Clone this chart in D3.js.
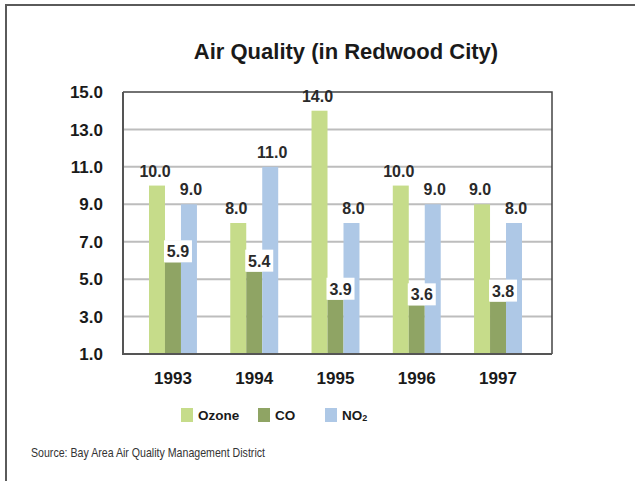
<!DOCTYPE html>
<html>
  <head>
    <script src="https://cdn.jsdelivr.net/npm/d3@7"></script>
    <style>
      body { margin: 0; background: #fff; }
      text { font-family: "Liberation Sans", Arial, sans-serif; }
    </style>
  </head>
  <body>
    <svg width="635" height="481" id="mainsvg"></svg>
    <script>
      // data
      const years = ['1993', '1994', '1995', '1996', '1997'];
      const seriesNames = ['Ozone', 'CO', 'NO2'];
      const ozone = [10.0, 8.0, 14.0, 10.0, 9.0];
      const co = [5.9, 5.4, 3.9, 3.6, 3.8];
      const no2 = [9.0, 11.0, 8.0, 9.0, 8.0];
      const yTicks = [1, 3, 5, 7, 9, 11, 13, 15];

      const colors = {Ozone: '#c6dc8a', CO: '#8fa464', NO2: '#aec8e6'};
      const labelDx = {Ozone: -2, CO: 5, NO2: 2};

      const svg = d3.select('#mainsvg');
      const plot = {left: 123, right: 552, top: 92, bottom: 354};

      // outer frame (left + top)
      svg.append('path')
        .attr('d', 'M6,481V5H635')
        .attr('fill', 'none')
        .attr('stroke', '#5a5a5a')
        .attr('stroke-width', 2);

      svg.append('text')
        .attr('x', 346).attr('y', 59)
        .attr('text-anchor', 'middle')
        .attr('font-size', 22).attr('font-weight', 'bold')
        .attr('fill', '#1a1a1a')
        .text('Air Quality (in Redwood City)');

      const y = d3.scaleLinear().domain([1, 15]).range([plot.bottom, plot.top]);
      const x0 = d3.scaleBand().domain(years).range([149, 522]).paddingInner(0.41);
      const x1 = d3.scaleBand().domain(seriesNames).range([0, x0.bandwidth()]);

      // grid
      svg.append('g').selectAll('line').data(yTicks.slice(1, -1)).join('line')
        .attr('x1', plot.left).attr('x2', plot.right)
        .attr('y1', d => y(d)).attr('y2', d => y(d))
        .attr('stroke', '#bdbdbd').attr('stroke-width', 2);

      // y tick labels
      svg.append('g').selectAll('text').data(yTicks).join('text')
        .attr('x', 103).attr('y', d => y(d)).attr('dy', '0.36em')
        .attr('text-anchor', 'end')
        .attr('font-size', 17).attr('font-weight', 'bold')
        .attr('fill', '#1a1a1a')
        .text(d => d3.format('.1f')(d));

      const table = seriesNames.map((s, i) => ({
        name: s,
        values: [ozone, co, no2][i]
      }));
      const bars = [];
      table.forEach(s => s.values.forEach((v, j) => bars.push({series: s.name, year: years[j], value: v})));

      svg.append('g').selectAll('rect').data(bars).join('rect')
        .attr('x', d => x0(d.year) + x1(d.series))
        .attr('y', d => y(d.value))
        .attr('width', x1.bandwidth())
        .attr('height', d => y(1) - y(d.value))
        .attr('fill', d => colors[d.series]);

      // plot frame
      svg.append('path')
        .attr('d', `M${plot.left},${plot.top}H${plot.right}V${plot.bottom}`)
        .attr('fill', 'none').attr('stroke', '#444').attr('stroke-width', 1.5);
      svg.append('path')
        .attr('d', `M${plot.left},${plot.top}V${plot.bottom}H${plot.right}`)
        .attr('fill', 'none').attr('stroke', '#555').attr('stroke-width', 2);

      // value labels
      const lab = svg.append('g').selectAll('g').data(bars).join('g')
        .attr('transform', d => {
          const cx = x0(d.year) + x1(d.series) + x1.bandwidth() / 2 + labelDx[d.series];
          const off = d.series === 'CO' ? 5 : 9;
          return `translate(${cx},${y(d.value) - off})`;
        });
      lab.filter(d => d.series === 'CO').append('rect')
        .attr('x', -14).attr('y', -17).attr('width', 28).attr('height', 22)
        .attr('fill', '#fff');
      lab.append('text')
        .attr('text-anchor', 'middle')
        .attr('font-size', 16).attr('font-weight', 'bold')
        .attr('fill', '#2a2a2a')
        .text(d => d3.format('.1f')(d.value));

      // year labels
      svg.append('g').selectAll('text').data(years).join('text')
        .attr('x', d => x0(d) + x0.bandwidth() / 2)
        .attr('y', 384)
        .attr('text-anchor', 'middle')
        .attr('font-size', 17).attr('font-weight', 'bold')
        .attr('fill', '#1a1a1a')
        .text(d => d);

      // legend
      const legX = {Ozone: 181, CO: 258, NO2: 325};
      const leg = svg.append('g').selectAll('g').data(seriesNames).join('g')
        .attr('transform', d => `translate(${legX[d]},408)`);
      leg.append('rect').attr('width', 12).attr('height', 14).attr('fill', d => colors[d]);
      const lt = leg.append('text')
        .attr('x', 17).attr('y', 12)
        .attr('font-size', 13.5).attr('font-weight', 'bold')
        .attr('fill', '#1a1a1a');
      lt.append('tspan').text(d => d === 'NO2' ? 'NO' : d);
      lt.filter(d => d === 'NO2').append('tspan')
        .attr('font-size', 9).attr('dy', 1).text('2');

      svg.append('text')
        .attr('x', 31).attr('y', 457)
        .attr('font-size', 13.5)
        .attr('font-family', '"DejaVu Sans Condensed", "Liberation Sans Narrow", sans-serif')
        .attr('font-stretch', 'condensed')
        .attr('textLength', 234).attr('lengthAdjust', 'spacingAndGlyphs')
        .attr('fill', '#333')
        .text('Source: Bay Area Air Quality Management District');
    </script>
  </body>
</html>
